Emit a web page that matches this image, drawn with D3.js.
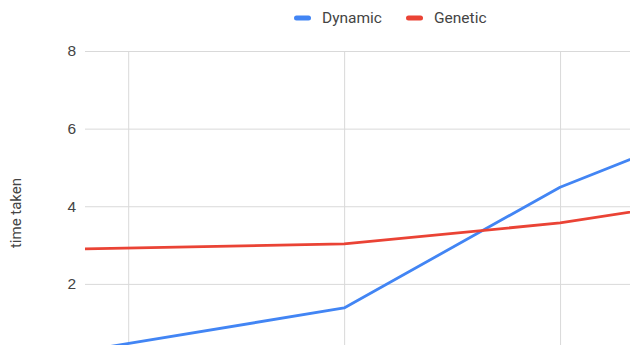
<!DOCTYPE html>
<html>
<head>
<meta charset="utf-8">
<script src="https://cdn.jsdelivr.net/npm/d3@7"></script>
<style>
  html, body { margin: 0; padding: 0; background: #fff; }
  svg { display: block; font-family: Roboto, "Liberation Sans", Arial, sans-serif; }
</style>
</head>
<body>
<svg id="chart" width="630" height="345"></svg>
<script>
// Problem size (x) and time taken for each approach
const sizes = [8, 20, 30, 40];
const dynamicTimes = [0.28, 1.38, 4.49, 6.7];
const geneticTimes = [2.9, 3.03, 3.57, 4.43];
const yTicks = [2, 4, 6, 8];
const xTicks = [10, 20, 30, 40];
const seriesNames = ["Dynamic", "Genetic"];
const seriesColors = ["#4285F4", "#EA4335"];

const svg = d3.select("#chart");

const x = d3.scaleLinear().domain([8, 40]).range([85, 776]);
const y = d3.scaleLinear().domain([0, 8]).range([361.5, 51]);

// Horizontal gridlines with value labels
const yAxis = svg.append("g")
  .attr("transform", `translate(${x.range()[0]},0)`)
  .call(d3.axisLeft(y).tickValues(yTicks).tickSize(-(x.range()[1] - x.range()[0])).tickPadding(9).tickFormat(d3.format("d")));
yAxis.select(".domain").remove();
yAxis.selectAll(".tick line").attr("stroke", "#d9d9d9").attr("stroke-width", 1);
yAxis.selectAll(".tick text").attr("fill", "#444").style("font-size", "15.5px");

// Vertical gridlines
const xAxis = svg.append("g")
  .attr("transform", `translate(0,${y(8)})`)
  .call(d3.axisBottom(x).tickValues(xTicks).tickSize(y(0) - y(8)).tickFormat(""));
xAxis.select(".domain").remove();
xAxis.selectAll(".tick line").attr("stroke", "#d9d9d9").attr("stroke-width", 1);

// Series lines
const line = d3.line().x((d, i) => x(sizes[i])).y(d => y(d));
[dynamicTimes, geneticTimes].forEach((vals, k) => {
  svg.append("path")
    .datum(vals)
    .attr("fill", "none")
    .attr("stroke", seriesColors[k])
    .attr("stroke-width", 2.8)
    .attr("stroke-linejoin", "round")
    .attr("d", line);
});

// Axis title
svg.append("text")
  .attr("transform", "translate(21,213) rotate(-90)")
  .attr("text-anchor", "middle")
  .attr("fill", "#444")
  .style("font-size", "15px")
  .text("time taken");

// Legend
const legendX = [294, 406];
seriesNames.forEach((name, k) => {
  const g = svg.append("g").attr("transform", `translate(${legendX[k]},18)`);
  g.append("rect")
    .attr("x", 0).attr("y", -2.5).attr("width", 17).attr("height", 5).attr("rx", 2.5)
    .attr("fill", seriesColors[k]);
  g.append("text")
    .attr("x", 28).attr("y", 0).attr("dy", "0.35em")
    .attr("fill", "#444")
    .style("font-size", "15.5px")
    .text(name);
});
</script>
</body>
</html>
